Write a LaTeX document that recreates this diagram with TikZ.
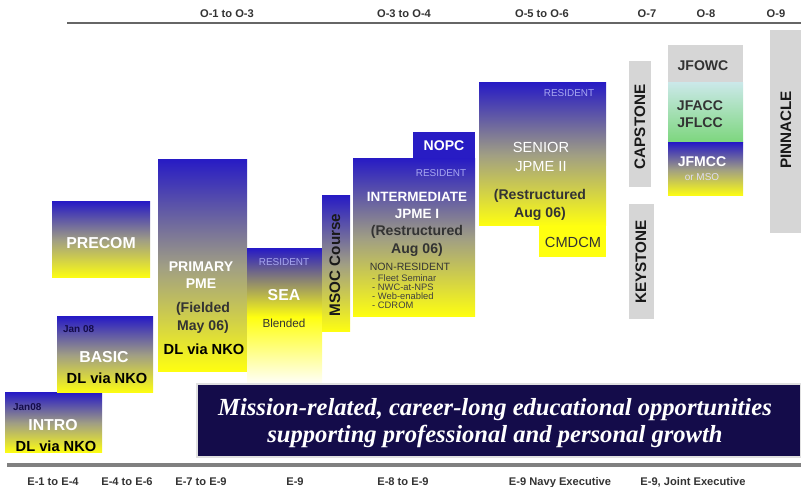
\documentclass[tikz,border=0pt]{standalone}
\usepackage{fontspec}
\setmainfont{Liberation Sans}
\newfontfamily\bannerfont{Liberation Serif}
\usepackage{tikz}
\usetikzlibrary{positioning}

\definecolor{pmeblue}{RGB}{40,28,196}
\definecolor{pmegray}{RGB}{160,158,132}
\definecolor{pmeyellow}{RGB}{255,255,16}
\definecolor{boxgray}{RGB}{214,214,214}
\definecolor{navyband}{RGB}{20,12,74}
\definecolor{residentblue}{RGB}{168,168,240}
\definecolor{jointcyan}{RGB}{202,232,232}
\definecolor{jointgreen}{RGB}{124,214,124}

\begin{document}
\begin{tikzpicture}[x=0.03cm, y=-0.03cm,
		course/.style={top color=pmeblue, bottom color=pmeyellow, middle color=pmegray},
		level/.style={fill=boxgray},
		title/.style={text=white, font=\bfseries\fontsize{13.5}{16}\selectfont, align=center},
		remark/.style={text=black!80, font=\bfseries\fontsize{12}{15}\selectfont, align=center},
		resident/.style={text=residentblue, font=\fontsize{8.5}{10}\selectfont},
		dated/.style={text=navyband, font=\bfseries\fontsize{8.5}{10}\selectfont, anchor=west},
		grade/.style={text=black!80, font=\bfseries\fontsize{9.5}{10}\selectfont, anchor=base},
		vertical/.style={rotate=90, text=black!90, font=\bfseries\fontsize{13}{13}\selectfont}]
	\useasboundingbox (0,0) rectangle (801,487);

	% officer and enlisted grade rules
	\draw[line width=2pt, black!60] (67,23) -- (801,23);
	\draw[line width=3pt, black!50] (7,465) -- (801,465);
	\foreach \x/\g [count=\i] in {227/O-1 to O-3, 404/O-3 to O-4, 542/O-5 to O-6, 647/O-7, 706/O-8, 776/O-9}
		\node[grade] (o\i) at (\x,18) {\g};
	\foreach \x/\g [count=\i] in {53/E-1 to E-4, 127/E-4 to E-6, 201/E-7 to E-9, 295/E-9, 403/E-8 to E-9, 560/E-9 Navy Executive, 693/{E-9, Joint Executive}}
		\node[grade] (e\i) at (\x,486) {\g};

	% entry courses
	\path[course] (5,393) rectangle (102,453);
	\node[dated] (introdate) at (9,407) {Jan08};
	\node[title] (intro) at (53,425) {INTRO};
	\node[remark, text=black, font=\bfseries\fontsize{12.5}{15}\selectfont] (introdl) at (56,446) {DL via NKO};

	\path[course] (57,317) rectangle (153,393);
	\node[dated] (basicdate) at (59,329) {Jan 08};
	\node[title] (basic) at (104,357) {BASIC};
	\node[remark, text=black, font=\bfseries\fontsize{12.5}{15}\selectfont] (basicdl) at (107,378) {DL via NKO};

	\path[course] (52,202) rectangle (150,278);
	\node[title] (precom) at (101,243) {PRECOM};

	% primary and SEA
	\path[course] (158,160) rectangle (247,372);
	\node[title, font=\bfseries\fontsize{12}{14.5}\selectfont] (primary) at (201,275) {PRIMARY\\PME};
	\node[remark] (fielded) at (203,318) {(Fielded\\May 06)};
	\node[remark, text=black, font=\bfseries\fontsize{12.5}{15}\selectfont] (primarydl) at (204,349) {DL via NKO};

	\path[top color=pmeblue, bottom color=white, middle color=pmeyellow] (247,249) rectangle (322,385);
	\node[resident] (searesident) at (284,262) {RESIDENT};
	\node[title] (sea) at (284,295) {SEA};
	\node[text=black!80, font=\fontsize{10}{12}\selectfont] (blended) at (284,323) {Blended};

	\path[course] (322,196) rectangle (350,332);
	\node[vertical] (msoc) at (335,265) {MSOC Course};

	% intermediate
	\path[fill=pmeblue] (413,132) rectangle (475,159);
	\node[title, font=\bfseries\fontsize{12}{14}\selectfont] (nopc) at (444,146) {NOPC};
	\path[course] (353,159) rectangle (475,317);
	\node[resident] (intresident) at (441,173) {RESIDENT};
	\node[title, font=\bfseries\fontsize{11.5}{14.5}\selectfont] (intermediate) at (417,205) {INTERMEDIATE\\JPME I};
	\node[remark] (intrestructured) at (417,241) {(Restructured\\Aug 06)};
	\node[text=black!80, font=\fontsize{9}{10}\selectfont] (nonresident) at (410,267) {NON-RESIDENT};
	\node[text=black!75, font=\fontsize{8}{7.8}\selectfont, align=left, anchor=north west, inner sep=0pt] (programs) at (372,274) {- Fleet Seminar\\- NWC-at-NPS\\- Web-enabled\\- CDROM};

	% senior
	\path[course] (479,83) rectangle (606,226);
	\node[resident] (senresident) at (569,93) {RESIDENT};
	\node[text=white, font=\fontsize{12.5}{17}\selectfont, align=center] (senior) at (541,157) {SENIOR\\JPME II};
	\node[remark] (senrestructured) at (540,205) {(Restructured\\Aug 06)};
	\path[fill=pmeyellow] (539,226) rectangle (606,257);
	\node[text=black!80, font=\fontsize{12.5}{14}\selectfont] (cmdcm) at (573,242) {CMDCM};

	% flag and general officer levels
	\path[level] (629,61) rectangle (651,187);
	\node[vertical] (capstone) at (640,127) {CAPSTONE};
	\path[level] (629,204) rectangle (654,319);
	\node[vertical] (keystone) at (641,262) {KEYSTONE};
	\path[level] (668,45) rectangle (743,83);
	\node[remark, font=\bfseries\fontsize{12}{14}\selectfont] (jfowc) at (703,66) {JFOWC};
	\path[top color=jointcyan, bottom color=jointgreen] (668,83) rectangle (743,143);
	\node[remark] (jfacc) at (700,114) {JFACC\\JFLCC};
	\path[course] (668,143) rectangle (743,196);
	\node[title, font=\bfseries\fontsize{12}{14}\selectfont] (jfmcc) at (702,162) {JFMCC};
	\node[text=white!85!pmeblue, font=\fontsize{8.5}{10}\selectfont] (msc) at (702,177) {or MSO};
	\path[level] (770,30) rectangle (801,233);
	\node[vertical] (pinnacle) at (786,130) {PINNACLE};

	% mission banner
	\path[fill=navyband, draw=black!12, line width=1.5pt] (197,384) rectangle (801,457);
	\node[text=white, font=\bannerfont\bfseries\itshape\fontsize{21}{23}\selectfont, align=center] (mission) at (495,423) {Mission-related, career-long educational opportunities\\supporting professional and personal growth};
\end{tikzpicture}
\end{document}
